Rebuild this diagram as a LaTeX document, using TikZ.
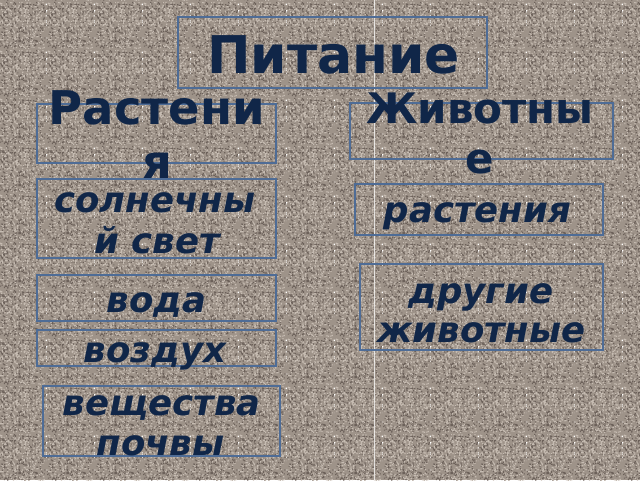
\documentclass[tikz,border=0pt]{standalone}
\usepackage{fontspec}
\setmainfont{DejaVu Sans}
\usetikzlibrary{patterns}
\definecolor{bgc}{RGB}{158,147,137}
\definecolor{speckd}{RGB}{108,97,90}
\definecolor{speckl}{RGB}{198,188,178}
\definecolor{txt}{RGB}{16,38,72}
\definecolor{brd}{RGB}{78,108,150}
\pgfmathsetseed{7}
\pgfdeclarepatterninherentlycolored{granite}
 {\pgfpointorigin}{\pgfpoint{48pt}{48pt}}{\pgfpoint{48pt}{48pt}}
 {%
  \pgfsetfillcolor{speckd}%
  \foreach \i in {1,...,320}{\pgfmathsetmacro\xa{rnd*46.8}\pgfmathsetmacro\ya{rnd*46.8}\pgfpathrectangle{\pgfpoint{\xa pt}{\ya pt}}{\pgfpoint{1.2pt}{1.2pt}}}%
  \pgfusepath{fill}%
  \pgfsetfillcolor{speckl}%
  \foreach \i in {1,...,320}{\pgfmathsetmacro\xa{rnd*46.8}\pgfmathsetmacro\ya{rnd*46.8}\pgfpathrectangle{\pgfpoint{\xa pt}{\ya pt}}{\pgfpoint{1.2pt}{1.2pt}}}%
  \pgfusepath{fill}%
 }
\tikzset{
  box/.style={draw=brd,line width=1.5pt,inner sep=0pt,fill=none},
  head/.style={text=txt,font=\fontsize{42}{42}\selectfont\bfseries,anchor=base,inner sep=0pt},
  item/.style={text=txt,font=\fontsize{35.5}{35.5}\selectfont\bfseries\itshape,anchor=base,inner sep=0pt},
}
\begin{document}
\begin{tikzpicture}[x=1pt,y=-1pt]
\useasboundingbox (0,0) rectangle (640,480);
\fill[bgc] (0,0) rectangle (640,480);
\fill[pattern=granite] (0,0) rectangle (640,480);
\coordinate (ltop) at (374.5,0);
\coordinate (lbot) at (374.5,480);
\draw[white,opacity=0.75,line width=0.9pt] (ltop) -- (lbot);
% boxes
\node[box,minimum width=309pt,minimum height=71pt] (bT) at (332.5,52.5) {};
\node[box,minimum width=239pt,minimum height=59pt] (bP) at (156.5,133.5) {};
\node[box,minimum width=263pt,minimum height=56pt] (bA) at (481.5,131) {};
\node[box,minimum width=239pt,minimum height=79pt] (bS) at (156.5,218.5) {};
\node[box,minimum width=248pt,minimum height=51pt] (bR) at (479,209.5) {};
\node[box,minimum width=243pt,minimum height=86pt] (bD) at (481.5,307) {};
\node[box,minimum width=239pt,minimum height=46pt] (bV) at (156.5,298) {};
\node[box,minimum width=239pt,minimum height=36pt] (bZ) at (156.5,348) {};
\node[box,minimum width=237pt,minimum height=70pt] (bW) at (161.5,421) {};
% texts
\node[head,font=\fontsize{52}{52}\selectfont\bfseries] (tT) at (333.5,73) {Питание};
\node[head,font=\fontsize{46.5}{46.5}\selectfont\bfseries] (tP1) at (157,124) {Растени};
\node[head,font=\fontsize{46.5}{46.5}\selectfont\bfseries] (tP2) at (157,178) {я};
\node[head] (tA1) at (480,123) {Животны};
\node[head] (tA2) at (480,173) {е};
\node[item] (tS1) at (155,212) {солнечны};
\node[item] (tS2) at (157,253) {й свет};
\node[item] (tR) at (477.5,222) {растения};
\node[item] (tD1) at (481,303) {другие};
\node[item] (tD2) at (481.5,342) {животные};
\node[item] (tV) at (156.5,312) {вода};
\node[item] (tZ) at (155,362) {воздух};
\node[item] (tW1) at (161.5,415) {вещества};
\node[item] (tW2) at (160.5,455) {почвы};
\end{tikzpicture}
\end{document}
